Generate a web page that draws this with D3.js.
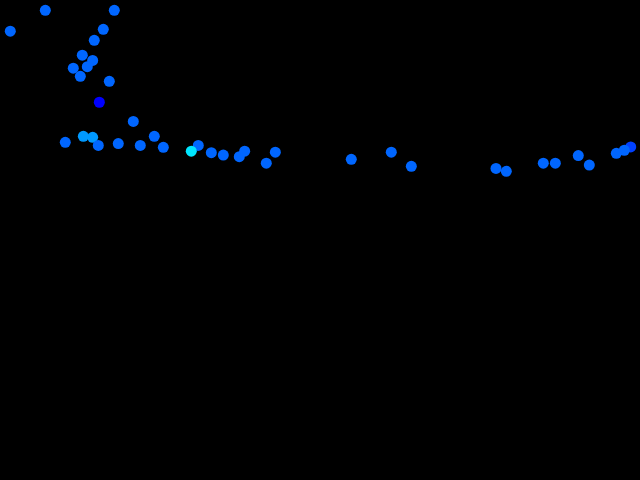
<!DOCTYPE html>
<html><head><meta charset="utf-8">
<script src="https://cdn.jsdelivr.net/npm/d3@7"></script>
<style>html,body{margin:0;padding:0;background:#000;}svg{display:block;}</style>
</head><body>
<script>
const xValues = [1.61,7.08,17.86,16.14,14.73,12.86,14.48,13.64,11.45,12.55,17.08,15.52,20.83,10.2,13.02,14.48,15.36,18.48,21.92,24.11,25.52,30.98,29.89,33.02,34.89,37.39,38.23,41.61,43.02,54.89,61.14,64.27,77.5,79.11,84.89,86.77,90.36,92.08,96.3,98.55,97.55];
const yValues = [93.5,97.85,97.85,93.9,91.6,88.5,87.4,86.1,85.8,84.1,83.06,78.7,74.7,70.35,71.6,71.4,69.7,70.1,69.7,71.6,69.3,69.7,68.5,68.2,67.7,67.35,68.5,66.0,68.3,66.8,68.3,65.35,64.9,64.3,66.0,66.0,67.6,65.6,68.06,69.4,68.7];
const colorValues = [0.4,0.4,0.4,0.4,0.4,0.4,0.4,0.4,0.4,0.4,0.4,0.0,0.4,0.4,0.6,0.6,0.4,0.4,0.4,0.4,0.4,0.4,0.9,0.4,0.4,0.4,0.4,0.4,0.4,0.4,0.4,0.4,0.4,0.4,0.4,0.4,0.4,0.4,0.4,0.25,0.4];

const W = 640, H = 480;
const data = xValues.map((x,i)=>({x, y:yValues[i], c:colorValues[i]}));
const xs = d3.scaleLinear().domain([0,100]).range([0,W]);
const ys = d3.scaleLinear().domain([0,100]).range([H,0]);
const color = d3.scaleLinear().domain([0,1]).range(["#0000ff","#00ffff"]);

const svg = d3.select("body").append("svg").attr("width",W).attr("height",H);
svg.append("rect").attr("width",W).attr("height",H).attr("fill","#000");
svg.selectAll("circle").data(data).join("circle")
  .attr("cx",d=>xs(d.x)).attr("cy",d=>ys(d.y)).attr("r",5.5)
  .attr("fill",d=>color(d.c));
</script>
</body></html>
